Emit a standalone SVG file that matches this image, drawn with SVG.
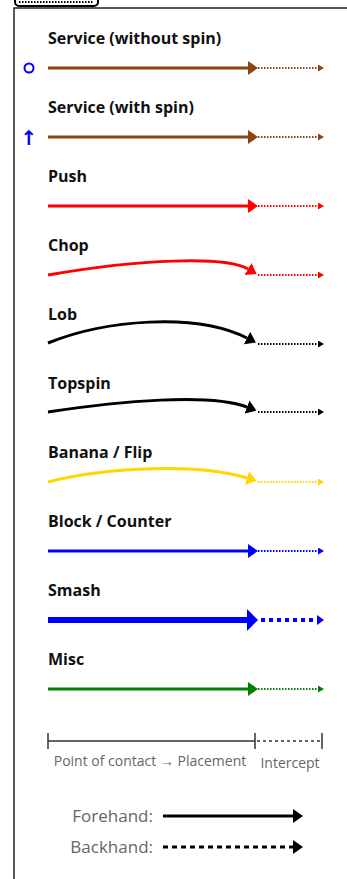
<svg xmlns="http://www.w3.org/2000/svg" width="347" height="879" viewBox="0 0 347 879">
<style>
.lbl{font-family:"Open Sans","Noto Sans","Liberation Sans",sans-serif;font-weight:700;font-size:16px;fill:#111}
.note{font-family:"Open Sans","Noto Sans","Liberation Sans",sans-serif;font-size:14px;fill:#666}
.key{font-family:"Open Sans","Noto Sans","Liberation Sans",sans-serif;font-size:17px;fill:#666}
.main{fill:none;stroke-width:3}
.icpt{fill:none;stroke-width:2;stroke-dasharray:1.5 1.5}
.brown{stroke:#8B4513}.red{stroke:#FF0000}.black{stroke:#000}.gold{stroke:#FFD700}.blue{stroke:#0000FF}.green{stroke:#008000}
</style>
<defs>
<marker id="bBrown" viewBox="0 0 10 14" markerWidth="10" markerHeight="14" refX="0" refY="7" orient="auto" markerUnits="userSpaceOnUse"><path d="M0,0L10,7L0,14z" fill="#8B4513"/></marker>
<marker id="sBrown" viewBox="0 0 6 7" markerWidth="6" markerHeight="7" refX="0" refY="3.5" orient="auto" markerUnits="userSpaceOnUse"><path d="M0,0L6,3.5L0,7z" fill="#8B4513"/></marker>
<marker id="bRed" viewBox="0 0 10 14" markerWidth="10" markerHeight="14" refX="0" refY="7" orient="auto" markerUnits="userSpaceOnUse"><path d="M0,0L10,7L0,14z" fill="#FF0000"/></marker>
<marker id="sRed" viewBox="0 0 6 7" markerWidth="6" markerHeight="7" refX="0" refY="3.5" orient="auto" markerUnits="userSpaceOnUse"><path d="M0,0L6,3.5L0,7z" fill="#FF0000"/></marker>
<marker id="bBlack" viewBox="0 0 10 14" markerWidth="10" markerHeight="14" refX="0" refY="7" orient="auto" markerUnits="userSpaceOnUse"><path d="M0,0L10,7L0,14z" fill="#000"/></marker>
<marker id="sBlack" viewBox="0 0 6 7" markerWidth="6" markerHeight="7" refX="0" refY="3.5" orient="auto" markerUnits="userSpaceOnUse"><path d="M0,0L6,3.5L0,7z" fill="#000"/></marker>
<marker id="bGold" viewBox="0 0 10 14" markerWidth="10" markerHeight="14" refX="0" refY="7" orient="auto" markerUnits="userSpaceOnUse"><path d="M0,0L10,7L0,14z" fill="#FFD700"/></marker>
<marker id="sGold" viewBox="0 0 6 7" markerWidth="6" markerHeight="7" refX="0" refY="3.5" orient="auto" markerUnits="userSpaceOnUse"><path d="M0,0L6,3.5L0,7z" fill="#FFD700"/></marker>
<marker id="bBlue" viewBox="0 0 10 14" markerWidth="10" markerHeight="14" refX="0" refY="7" orient="auto" markerUnits="userSpaceOnUse"><path d="M0,0L10,7L0,14z" fill="#0000FF"/></marker>
<marker id="sBlue" viewBox="0 0 6 7" markerWidth="6" markerHeight="7" refX="0" refY="3.5" orient="auto" markerUnits="userSpaceOnUse"><path d="M0,0L6,3.5L0,7z" fill="#0000FF"/></marker>
<marker id="xBlue" viewBox="0 0 11 22" markerWidth="11" markerHeight="22" refX="0" refY="11" orient="auto" markerUnits="userSpaceOnUse"><path d="M0,0L11,11L0,22z" fill="#0000FF"/></marker>
<marker id="ySBlue" viewBox="0 0 7 10" markerWidth="7" markerHeight="10" refX="0" refY="5" orient="auto" markerUnits="userSpaceOnUse"><path d="M0,0L7,5L0,10z" fill="#0000FF"/></marker>
<marker id="bGreen" viewBox="0 0 10 14" markerWidth="10" markerHeight="14" refX="0" refY="7" orient="auto" markerUnits="userSpaceOnUse"><path d="M0,0L10,7L0,14z" fill="#008000"/></marker>
<marker id="sGreen" viewBox="0 0 6 7" markerWidth="6" markerHeight="7" refX="0" refY="3.5" orient="auto" markerUnits="userSpaceOnUse"><path d="M0,0L6,3.5L0,7z" fill="#008000"/></marker>
<marker id="kHead" viewBox="0 0 10 14" markerWidth="10" markerHeight="14" refX="0" refY="7" orient="auto" markerUnits="userSpaceOnUse"><path d="M0,0L10,7L0,14z" fill="#000"/></marker>
</defs>
<rect width="347" height="879" fill="#fff"/>
<g id="frame">
<rect x="15" y="-10" width="83" height="16" rx="4" fill="#fff" stroke="#000" stroke-width="2"/>
<line x1="19" y1="2" x2="94" y2="2" stroke="#000" stroke-width="2" stroke-dasharray="1.5 1.5"/>
<path d="M14,879 V8 H347" fill="none" stroke="#222" stroke-width="1.5"/>
</g>
<g id="service-no-spin">
<text class="lbl" x="48" y="44">Service (without spin)</text>
<circle cx="29" cy="68" r="4.5" fill="none" stroke="#0000FF" stroke-width="2"/>
</g>
<g id="service-spin">
<text class="lbl" x="48" y="113">Service (with spin)</text>
<text x="29" y="145" text-anchor="middle" font-family="'Noto Sans','DejaVu Sans',sans-serif" font-weight="700" font-size="20" fill="#0000FF">↑</text>
</g>
<g id="push"><text class="lbl" x="48" y="182">Push</text></g>
<g id="chop"><text class="lbl" x="48" y="251">Chop</text></g>
<g id="lob"><text class="lbl" x="48" y="320">Lob</text></g>
<g id="topspin"><text class="lbl" x="48" y="389">Topspin</text></g>
<g id="banana"><text class="lbl" x="48" y="458">Banana / Flip</text></g>
<g id="block"><text class="lbl" x="48" y="527">Block / Counter</text></g>
<g id="smash"><text class="lbl" x="48" y="596">Smash</text></g>
<g id="misc"><text class="lbl" x="48" y="665">Misc</text></g>
<g id="connectors">
<path class="main brown" d="M48,68H248" marker-end="url(#bBrown)"/>
<path class="icpt brown" d="M258,68H318" marker-end="url(#sBrown)"/>
<path class="main brown" d="M48,137H248" marker-end="url(#bBrown)"/>
<path class="icpt brown" d="M258,137H318" marker-end="url(#sBrown)"/>
<path class="main red" d="M48,206H248" marker-end="url(#bRed)"/>
<path class="icpt red" d="M258,206H318" marker-end="url(#sRed)"/>
<path class="main red" d="M48,275C140,259 225,256 248,269" marker-end="url(#bRed)"/>
<path class="icpt red" d="M258,275H318" marker-end="url(#sRed)"/>
<path class="main black" d="M48,343C105,320 195,312 247,338" marker-end="url(#bBlack)"/>
<path class="icpt black" d="M258,344H318" marker-end="url(#sBlack)"/>
<path class="main black" d="M48,412C120,401 210,393 247,407" marker-end="url(#bBlack)"/>
<path class="icpt black" d="M258,412H318" marker-end="url(#sBlack)"/>
<path class="main gold" d="M48,482C110,466 200,464 247,478" marker-end="url(#bGold)"/>
<path class="icpt gold" d="M258,482H318" marker-end="url(#sGold)"/>
<path class="main blue" d="M48,551H248" marker-end="url(#bBlue)"/>
<path class="icpt blue" d="M258,551H318" marker-end="url(#sBlue)"/>
<path fill="none" stroke="#0000FF" stroke-width="6" d="M48,620H247" marker-end="url(#xBlue)"/>
<path fill="none" stroke="#0000FF" stroke-width="4" stroke-dasharray="4 4" d="M261,620H317" marker-end="url(#ySBlue)"/>
<path class="main green" d="M48,689H248" marker-end="url(#bGreen)"/>
<path class="icpt green" d="M258,689H318" marker-end="url(#sGreen)"/>
</g>
<g id="scale">
<path d="M48,741H255M48,733V749M255,733V749M322,733V749" fill="none" stroke="#333" stroke-width="1.5"/>
<path d="M257,741H321" fill="none" stroke="#333" stroke-width="1.5" stroke-dasharray="3 3"/>
<text class="note" x="150" y="766" text-anchor="middle">Point of contact → Placement</text>
<text class="note" x="290" y="768" text-anchor="middle" font-size="15.5">Intercept</text>
</g>
<g id="hand-key">
<text class="key" x="153" y="822" text-anchor="end">Forehand:</text>
<path d="M163,816H293" fill="none" stroke="#000" stroke-width="3" marker-end="url(#kHead)"/>
<text class="key" x="153" y="853" text-anchor="end">Backhand:</text>
<path d="M163,847H293" fill="none" stroke="#000" stroke-width="3" stroke-dasharray="5 4" marker-end="url(#kHead)"/>
</g>
</svg>
